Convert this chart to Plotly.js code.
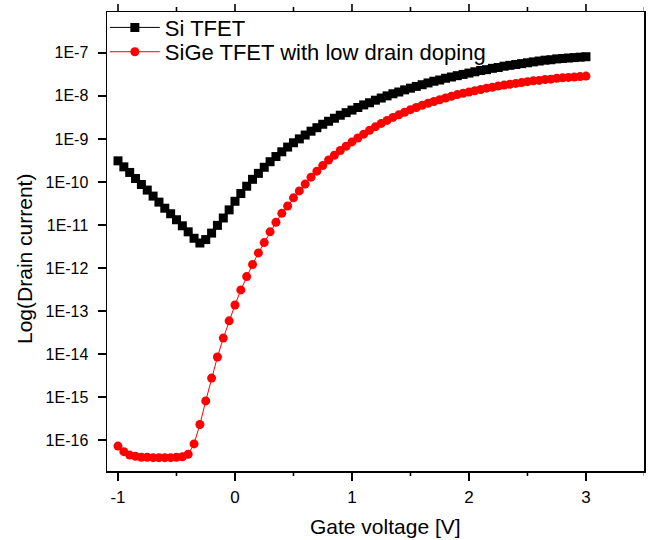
<!DOCTYPE html>
<html>
<head>
<meta charset="utf-8">
<script src="https://cdn.plot.ly/plotly-3.0.1.min.js"></script>
<style>html,body{margin:0;padding:0;background:#fff;}#chart{width:648px;height:540px;}</style>
</head>
<body>
<div id="chart"></div>
<script>
// Gate voltage [V]
const gateVoltage = [-1.00,-0.95,-0.90,-0.85,-0.80,-0.75,-0.70,-0.65,-0.60,-0.55,-0.50,-0.45,-0.40,-0.35,-0.30,-0.25,-0.20,-0.15,-0.10,-0.05,
  0.00,0.05,0.10,0.15,0.20,0.25,0.30,0.35,0.40,0.45,0.50,0.55,0.60,0.65,0.70,0.75,0.80,0.85,0.90,0.95,
  1.00,1.05,1.10,1.15,1.20,1.25,1.30,1.35,1.40,1.45,1.50,1.55,1.60,1.65,1.70,1.75,1.80,1.85,1.90,1.95,
  2.00,2.05,2.10,2.15,2.20,2.25,2.30,2.35,2.40,2.45,2.50,2.55,2.60,2.65,2.70,2.75,2.80,2.85,2.90,2.95,3.00];

// Si TFET drain current
const siTfet = [3.09e-10,2.24e-10,1.66e-10,1.20e-10,8.71e-11,6.46e-11,4.68e-11,3.39e-11,2.45e-11,1.82e-11,
  1.32e-11,9.55e-12,6.92e-12,4.90e-12,3.80e-12,4.57e-12,6.46e-12,9.77e-12,1.45e-11,2.24e-11,
  3.55e-11,5.37e-11,7.94e-11,1.15e-10,1.58e-10,2.19e-10,2.95e-10,3.89e-10,5.01e-10,6.46e-10,
  8.13e-10,1.00e-9,1.23e-9,1.51e-9,1.82e-9,2.19e-9,2.57e-9,3.02e-9,3.55e-9,4.07e-9,
  4.68e-9,5.37e-9,6.17e-9,6.92e-9,7.94e-9,8.91e-9,1.00e-8,1.12e-8,1.23e-8,1.38e-8,
  1.51e-8,1.66e-8,1.82e-8,2.00e-8,2.19e-8,2.34e-8,2.57e-8,2.75e-8,2.95e-8,3.16e-8,
  3.39e-8,3.63e-8,3.89e-8,4.07e-8,4.37e-8,4.57e-8,4.90e-8,5.13e-8,5.37e-8,5.62e-8,
  5.89e-8,6.17e-8,6.46e-8,6.76e-8,6.92e-8,7.24e-8,7.41e-8,7.59e-8,7.76e-8,7.94e-8,8.13e-8];

// SiGe TFET with low drain doping
const sigeTfet = [7.24e-17,5.37e-17,4.47e-17,4.17e-17,3.98e-17,3.98e-17,3.89e-17,3.89e-17,3.89e-17,3.89e-17,
  3.98e-17,4.07e-17,4.68e-17,8.13e-17,2.29e-16,8.13e-16,2.75e-15,8.51e-15,2.34e-14,5.89e-14,
  1.38e-13,3.09e-13,6.31e-13,1.20e-12,2.24e-12,3.89e-12,6.92e-12,1.15e-11,1.86e-11,2.75e-11,
  4.27e-11,6.17e-11,8.91e-11,1.29e-10,1.78e-10,2.40e-10,3.24e-10,4.17e-10,5.37e-10,6.76e-10,
  8.51e-10,1.05e-9,1.29e-9,1.58e-9,1.91e-9,2.29e-9,2.69e-9,3.16e-9,3.63e-9,4.17e-9,
  4.79e-9,5.37e-9,6.03e-9,6.76e-9,7.41e-9,8.13e-9,8.91e-9,9.77e-9,1.07e-8,1.15e-8,
  1.23e-8,1.32e-8,1.41e-8,1.51e-8,1.58e-8,1.70e-8,1.78e-8,1.86e-8,1.95e-8,2.04e-8,
  2.14e-8,2.24e-8,2.29e-8,2.40e-8,2.45e-8,2.57e-8,2.63e-8,2.69e-8,2.75e-8,2.82e-8,2.88e-8];

const seriesNames = ["Si TFET", "SiGe TFET with low drain doping"];
const xTitle = "Gate voltage [V]";
const yTitle = "Log(Drain current)";
const yTickVals = [1e-16,1e-15,1e-14,1e-13,1e-12,1e-11,1e-10,1e-9,1e-8,1e-7];
const yTickText = ["1E-16","1E-15","1E-14","1E-13","1E-12","1E-11","1E-10","1E-9","1E-8","1E-7"];
const xTickVals = [-1,0,1,2,3];
const xTickText = ["-1","0","1","2","3"];
const xMinorVals = [-0.5,0.5,1.5,2.5,3.5];

const fam = 'Arial, "Liberation Sans", sans-serif';
const xRange = [-1.094, 3.496];
const yRange = [-16.72, -6.05];

// minor tick positions on the log axis: digits 2..9 of each decade (only inside the range)
const yMinorVals = [];
for (let e = -17; e <= -7; e++) {
  for (let d = 2; d <= 9; d++) {
    const v = d * Math.pow(10, e);
    const lv = Math.log10(v);
    if (lv > yRange[0] && lv < yRange[1]) yMinorVals.push(v);
  }
}

// tick marks drawn as axis-anchored line shapes (pixel lengths)
const tickShapes = [];
const tickLine = {color: '#000000', width: 1.6};
function xTick(v, len) {
  tickShapes.push({type: 'line', xref: 'x', x0: v, x1: v, yref: 'paper', ysizemode: 'pixel', yanchor: 0, y0: 0, y1: -len, line: tickLine, layer: 'above'});
  tickShapes.push({type: 'line', xref: 'x', x0: v, x1: v, yref: 'paper', ysizemode: 'pixel', yanchor: 1, y0: 0, y1: len, line: tickLine, layer: 'above'});
}
function yTick(v, len) {
  const lv = Math.log10(v);
  tickShapes.push({type: 'line', yref: 'y', y0: lv, y1: lv, xref: 'paper', xsizemode: 'pixel', xanchor: 0, x0: -len, x1: 0, line: tickLine, layer: 'above'});
  tickShapes.push({type: 'line', yref: 'y', y0: lv, y1: lv, xref: 'paper', xsizemode: 'pixel', xanchor: 1, x0: 0, x1: len, line: tickLine, layer: 'above'});
}
xTickVals.forEach(v => xTick(v, 8));
xMinorVals.forEach(v => xTick(v, 5));
yTickVals.forEach(v => yTick(v, 8));
yMinorVals.forEach(v => yTick(v, 5));

const traces = [
  {x: gateVoltage, y: siTfet, name: seriesNames[0], type: 'scatter', mode: 'lines+markers', legend: 'legend',
   line: {color: '#000000', width: 1}, marker: {symbol: 'square', size: 9, color: '#000000'}},
  {x: gateVoltage, y: sigeTfet, name: seriesNames[1], type: 'scatter', mode: 'lines+markers', legend: 'legend2',
   line: {color: '#ff0000', width: 1}, marker: {symbol: 'circle', size: 9, color: '#ff0000'}}
];

const legendBase = {xanchor: 'left', yanchor: 'middle', bgcolor: 'rgba(0,0,0,0)',
  font: {family: fam, size: 22, color: '#000'}, itemwidth: 50};

const layout = {
  width: 648, height: 540,
  margin: {l: 107, r: 4, t: 12, b: 69},
  paper_bgcolor: '#fff', plot_bgcolor: '#fff',
  font: {family: fam, color: '#000'},
  showlegend: true,
  legend: Object.assign({}, legendBase, {x: -0.004, y: 0.966}),
  legend2: Object.assign({}, legendBase, {x: -0.004, y: 0.913}),
  xaxis: {
    range: xRange, showgrid: false, zeroline: false,
    showline: true, linecolor: '#000', linewidth: 1.5, mirror: true,
    ticks: 'outside', ticklen: 8, tickwidth: 1.6, tickcolor: '#000',
    tickmode: 'array', tickvals: xTickVals, ticktext: xTickText, ticklabelstandoff: 2,
    tickfont: {family: fam, size: 17, color: '#000'}
  },
  yaxis: {
    type: 'log', range: yRange, showgrid: false, zeroline: false,
    showline: true, linecolor: '#000', linewidth: 1.5, mirror: true,
    ticks: 'outside', ticklen: 8, tickwidth: 1.6, tickcolor: '#000',
    tickmode: 'array', tickvals: yTickVals, ticktext: yTickText, ticklabelstandoff: 6,
    tickfont: {family: fam, size: 16, color: '#000'}
  },
  shapes: tickShapes,
  annotations: [
    {text: xTitle, xref: 'paper', yref: 'paper', x: 0.5177, y: -0.122, xanchor: 'center', yanchor: 'middle',
     showarrow: false, font: {family: fam, size: 21, color: '#000'}},
    {text: yTitle, xref: 'paper', yref: 'paper', x: -0.1527, y: 0.4619, xanchor: 'center', yanchor: 'middle',
     textangle: -90, showarrow: false, font: {family: fam, size: 21, color: '#000'}}
  ]
};

Plotly.newPlot('chart', traces, layout, {displayModeBar: false, staticPlot: true});
</script>
</body>
</html>
